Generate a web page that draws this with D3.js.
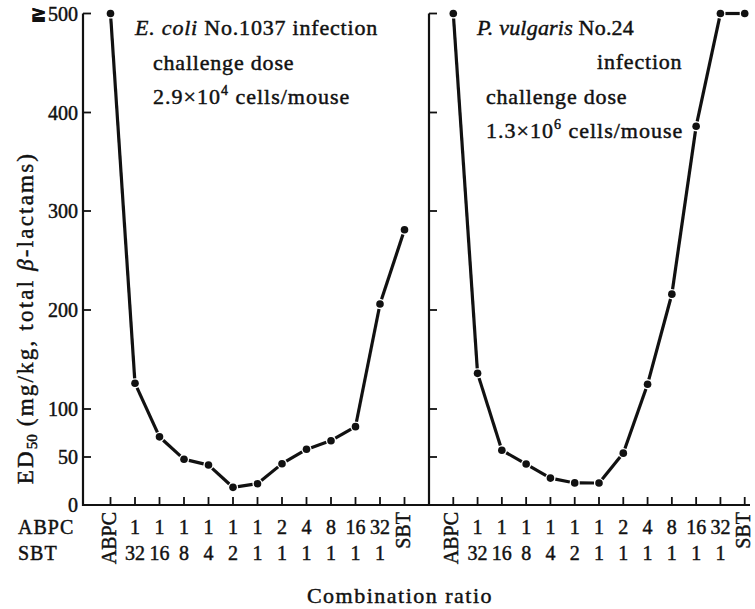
<!DOCTYPE html>
<html>
<head>
<meta charset="utf-8">
<script src="https://cdn.jsdelivr.net/npm/d3@7"></script>
<style>
  body { margin: 0; background: #fff; }
  svg { display: block; }
  text { font-family: "Liberation Serif", "Times New Roman", serif; fill: #111; stroke: #111; stroke-width: 0.45px; }
</style>
</head>
<body>
<svg id="chart" width="755" height="609"></svg>
<script>
// Combination ratios (ABPC : SBT)
const categories = ["ABPC", "1:32", "1:16", "1:8", "1:4", "1:2", "1:1", "2:1", "4:1", "8:1", "16:1", "32:1", "SBT"];
const ratioTop = ["ABPC", "1", "1", "1", "1", "1", "1", "2", "4", "8", "16", "32", "SBT"];
const ratioBottom = ["", "32", "16", "8", "4", "2", "1", "1", "1", "1", "1", "1", ""];

// ED50 (mg/kg, total beta-lactams)
const ecoliED50 = [500, 126, 71, 47.6, 41.7, 18.4, 22.2, 43, 58, 67, 81.6, 206, 281];
const pvulgarisED50 = [500, 136, 57, 42.7, 28, 23, 22.9, 54, 125, 216, 386, 500, 500];

const yTicks = [0, 50, 100, 200, 300, 400, 500];
const yTickLabels = ["0", "50", "100", "200", "300", "400", "500"];

const svg = d3.select("#chart");
const ink = "#111";

const y = d3.scaleLinear()
  .domain([0, 50, 100, 200, 300, 400, 500])
  .range([505, 457, 409, 310, 211, 112.5, 13.5]);

const axisY = 505, leftX = 83, midX = 429;

const xLeft = d3.scalePoint().domain(categories).range([86, midX]).padding(1);
const xRight = d3.scalePoint().domain(categories).range([midX, midX + 340]).padding(1);

// bottom axis line
svg.append("line")
  .attr("x1", leftX).attr("x2", 750)
  .attr("y1", axisY).attr("y2", axisY)
  .attr("stroke", ink).attr("stroke-width", 2.2);

// vertical axes (left and divider) with inward ticks
[leftX, midX].forEach(ax => {
  svg.append("line")
    .attr("x1", ax).attr("x2", ax)
    .attr("y1", y(500)).attr("y2", axisY + 1)
    .attr("stroke", ink).attr("stroke-width", 2.2);
  svg.selectAll(null).data(yTicks.filter(d => d > 0)).enter().append("line")
    .attr("x1", ax).attr("x2", ax + 8)
    .attr("y1", d => y(d)).attr("y2", d => y(d))
    .attr("stroke", ink).attr("stroke-width", 1.8);
});

// y tick labels
svg.selectAll(null).data(yTicks).enter().append("text")
  .attr("x", leftX - 5).attr("y", d => y(d))
  .attr("dy", "0.35em")
  .attr("text-anchor", "end")
  .attr("font-size", 20)
  .text((d, i) => yTickLabels[i]);
svg.append("text")
  .attr("x", 31).attr("y", y(500))
  .attr("dy", "0.35em").attr("font-size", 18)
  .attr("font-weight", "bold")
  .attr("text-anchor", "start")
  .text("≧");

// y title
const yTitle = svg.append("text")
  .attr("transform", "translate(33,318) rotate(-90)")
  .attr("text-anchor", "middle")
  .attr("font-size", 23)
  .attr("letter-spacing", 2.2);
yTitle.append("tspan").text("ED");
yTitle.append("tspan").attr("font-size", 15).attr("dy", 4).attr("letter-spacing", 0).text("50");
yTitle.append("tspan").attr("dy", -4).text("  (mg/kg, total ");
yTitle.append("tspan").attr("font-style", "italic").text("β");
yTitle.append("tspan").text("-lactams)");

function drawPanel(x, values) {
  // ticks on the bottom axis
  svg.selectAll(null).data(categories).enter().append("line")
    .attr("x1", d => x(d)).attr("x2", d => x(d))
    .attr("y1", axisY).attr("y2", axisY - 8)
    .attr("stroke", ink).attr("stroke-width", 1.8);

  // category labels
  categories.forEach((c, i) => {
    if (i === 0 || i === categories.length - 1) {
      svg.append("text")
        .attr("transform", `translate(${x(c)},512) rotate(-90)`)
        .attr("dy", "0.25em")
        .attr("text-anchor", "end")
        .attr("font-size", 20)
        .text(ratioTop[i]);
    } else {
      svg.append("text")
        .attr("x", x(c)).attr("y", 534)
        .attr("text-anchor", "middle").attr("font-size", 20)
        .text(ratioTop[i]);
      svg.append("text")
        .attr("x", x(c)).attr("y", 560)
        .attr("text-anchor", "middle").attr("font-size", 20)
        .text(ratioBottom[i]);
    }
  });

  const pts = values.map((v, i) => [x(categories[i]), y(v)]);
  // segments between markers, stopping just short of each dot
  const gap = 5;
  const segs = d3.pairs(pts).map(([a, b]) => {
    const dx = b[0] - a[0], dy = b[1] - a[1];
    const len = Math.hypot(dx, dy);
    const ux = dx / len, uy = dy / len;
    return [a[0] + ux * gap, a[1] + uy * gap, b[0] - ux * gap, b[1] - uy * gap];
  });
  svg.selectAll(null).data(segs).enter().append("line")
    .attr("x1", d => d[0]).attr("y1", d => d[1])
    .attr("x2", d => d[2]).attr("y2", d => d[3])
    .attr("stroke", ink).attr("stroke-width", 3.2)
    .attr("stroke-linecap", "butt");
  svg.selectAll(null).data(pts).enter().append("circle")
    .attr("cx", d => d[0]).attr("cy", d => d[1])
    .attr("r", 3.8).attr("fill", ink);
}

drawPanel(xLeft, ecoliED50);
drawPanel(xRight, pvulgarisED50);

// row headers
svg.append("text").attr("x", 18).attr("y", 534).attr("font-size", 20).attr("letter-spacing", 1).text("ABPC");
svg.append("text").attr("x", 18).attr("y", 560).attr("font-size", 20).attr("letter-spacing", 1).text("SBT");

// x title
svg.append("text").attr("x", 400).attr("y", 603)
  .attr("text-anchor", "middle").attr("font-size", 22)
  .attr("letter-spacing", 1.5)
  .text("Combination ratio");

// panel annotations
function note(xp, yp, parts, spacing) {
  const t = svg.append("text").attr("x", xp).attr("y", yp)
    .attr("font-size", 22).attr("letter-spacing", spacing);
  parts.forEach(p => {
    const s = t.append("tspan").text(p.t);
    if (p.i) s.attr("font-style", "italic");
    if (p.sup) s.attr("font-size", 14).attr("dy", -9);
    if (p.down) s.attr("dy", 9);
  });
}
note(135, 35, [{t: "E. coli", i: true}, {t: " No.1037 infection"}], 0.8);
note(153, 70, [{t: "challenge dose"}], 0.8);
note(153, 104, [{t: "2.9×10"}, {t: "4", sup: true}, {t: " cells/mouse", down: true}], 1.0);

note(477, 35, [{t: "P. vulgaris", i: true}, {t: " No.24"}], 0.2);
note(597, 69, [{t: "infection"}], 0.8);
note(486, 104, [{t: "challenge dose"}], 0.8);
note(486, 138, [{t: "1.3×10"}, {t: "6", sup: true}, {t: " cells/mouse", down: true}], 1.0);
</script>
</body>
</html>
